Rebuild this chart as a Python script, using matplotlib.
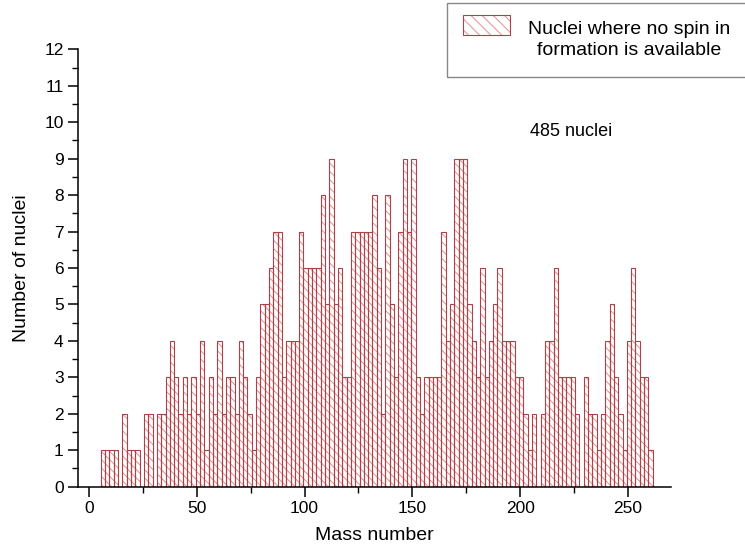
import numpy as np
import matplotlib
matplotlib.use("Agg")
import matplotlib.pyplot as plt
from matplotlib.patches import Rectangle
from matplotlib.ticker import MultipleLocator

plt.rcParams['font.family'] = ['Liberation Sans', 'DejaVu Sans']
plt.rcParams['hatch.linewidth'] = 0.7

# counts per mass-number bin (bin width 2, first bin centred at 6.5)
first_center = 6.5
bin_width = 2
counts = [1, 1, 1, 1, 0, 2, 1, 1, 1, 0,
          2, 2, 0, 2, 2, 3, 4, 3, 2, 3,
          2, 3, 2, 4, 1, 3, 2, 4, 2, 3,
          3, 2, 4, 3, 2, 1, 3, 5, 5, 6,
          7, 7, 3, 4, 4, 4, 7, 6, 6, 6,
          6, 8, 5, 9, 5, 6, 3, 3, 7, 7,
          7, 7, 7, 8, 6, 2, 8, 5, 3, 7,
          9, 7, 9, 3, 2, 3, 3, 3, 3, 7,
          4, 5, 9, 9, 9, 5, 4, 3, 6, 3,
          4, 5, 6, 4, 4, 4, 3, 3, 2, 1,
          2, 0, 2, 4, 4, 6, 3, 3, 3, 3,
          2, 0, 3, 2, 2, 1, 2, 4, 5, 3,
          2, 1, 4, 6, 4, 3, 3, 1]
centers = first_center + bin_width * np.arange(len(counts))

edge_col = '#b04048'
hatch_col = '#e39090'

fig = plt.figure(figsize=(7.45, 5.54), dpi=100)
ax = fig.add_axes([0.105, 0.1215, 0.7957, 0.7895])

# hatch layer, then outline layer
ax.bar(centers, counts, width=bin_width, fill=False, hatch='\\\\\\\\',
       edgecolor=hatch_col, linewidth=0)
ax.bar(centers, counts, width=bin_width, fill=False,
       edgecolor=edge_col, linewidth=0.8)

ax.set_xlim(-5, 270)
ax.set_ylim(0, 12)
ax.xaxis.set_major_locator(MultipleLocator(50))
ax.xaxis.set_minor_locator(MultipleLocator(25))
ax.yaxis.set_major_locator(MultipleLocator(1))
ax.yaxis.set_minor_locator(MultipleLocator(0.5))
ax.tick_params(which='major', direction='out', length=7, width=1.1, labelsize=12.5)
ax.tick_params(which='minor', direction='out', length=4, width=1.0)
for s in ['top', 'right']:
    ax.spines[s].set_visible(False)
for s in ['left', 'bottom']:
    ax.spines[s].set_linewidth(1.1)

ax.set_xlabel('Mass number', fontsize=14, labelpad=8)
ax.set_ylabel('Number of nuclei', fontsize=14, labelpad=10)

ax.text(530 / 745, 1 - 131 / 554, '485 nuclei', transform=fig.transFigure,
        fontsize=13, va='center', ha='left')

# legend box (cut at the right edge like the original)
fig.patches.append(Rectangle((447 / 745, 1 - 77 / 554), 0.6, 74 / 554,
                             transform=fig.transFigure, fill=False,
                             edgecolor='#888888', linewidth=1))
fig.patches.append(Rectangle((463 / 745, 1 - 35 / 554), 47 / 745, 20 / 554,
                             transform=fig.transFigure, fill=False,
                             hatch='\\\\\\', edgecolor=hatch_col, linewidth=0))
fig.patches.append(Rectangle((463 / 745, 1 - 35 / 554), 47 / 745, 20 / 554,
                             transform=fig.transFigure, fill=False,
                             edgecolor=edge_col, linewidth=0.8))
fig.text(629 / 745, 1 - 40 / 554, 'Nuclei where no spin in\nformation is available',
         fontsize=14, ha='center', va='center', multialignment='center',
         linespacing=1.3)

fig.savefig('out.png', dpi=100)
